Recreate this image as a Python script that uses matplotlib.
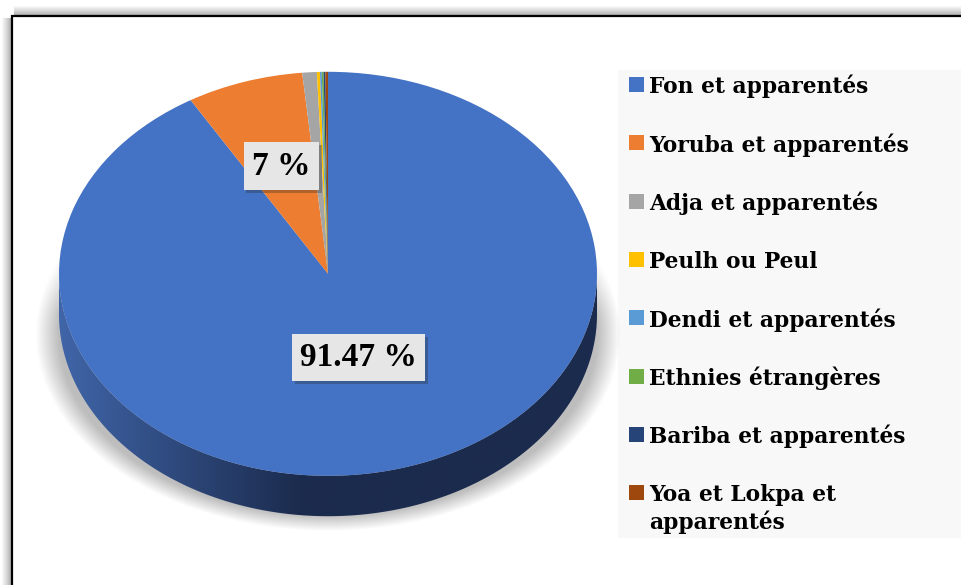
import numpy as np
import matplotlib.pyplot as plt
from matplotlib.patches import Rectangle, Polygon
from matplotlib.colors import to_rgb
import matplotlib.patheffects as pe

# données : répartition des ethnies (%)
ethnies = ['Fon et apparentés', 'Yoruba et apparentés', 'Adja et apparentés',
           'Peulh ou Peul', 'Dendi et apparentés', 'Ethnies étrangères',
           'Bariba et apparentés', 'Yoa et Lokpa et\napparentés']
parts = [91.47, 7.0, 0.87, 0.18, 0.11, 0.11, 0.11, 0.15]
etiquettes = ['91.47 %', '7 %', '', '', '', '', '', '']
couleurs = ['#4472c4', '#ed7d31', '#a5a5a5', '#ffc000',
            '#5b9bd5', '#70ad47', '#264478', '#9e480e']

W, H = 961, 585
police = 'Liberation Serif'
police_leg = 'DejaVu Serif'
epaisseur = 0.2   # profondeur du camembert 3D (unités du rayon)

fig = plt.figure(figsize=(W / 100, H / 100), dpi=100)

# fond en pixels : cadre, ombre du cadre, légende
fond = fig.add_axes([0, 0, 1, 1])
fond.set_xlim(0, W)
fond.set_ylim(H, 0)
fond.axis('off')

for k in range(1, 12):
    g = 0.6 + 0.4 * (k / 11) ** 0.8
    fond.plot([12 - k, 12 - k], [16 + 2, H], color=str(g), lw=0.75, zorder=1)
    fond.plot([12 + 2, W], [16 - k, 16 - k], color=str(g), lw=0.75, zorder=1)
fond.plot([12, 12, W], [H, 16, 16], color='black', lw=1.6, zorder=2,
          solid_joinstyle='miter')

fond.add_patch(Rectangle((618, 70), W - 618, 468, facecolor='#f8f8f8',
                         edgecolor='none', zorder=1))
for i, (lab, col) in enumerate(zip(ethnies, couleurs)):
    yb = 93.3 + 58.3 * i
    fond.add_patch(Rectangle((629, yb - 16.3), 15, 15, facecolor=col,
                             edgecolor='none', zorder=3))
    for j, ligne in enumerate(lab.split('\n')):
        fond.text(649, yb + 28 * j, ligne, fontsize=15.7, fontweight='bold',
                  family=police_leg, va='baseline', ha='left', color='black',
                  zorder=3)

# camembert
ax = fig.add_axes([5.2 / W, 28.4 / H, 645.6 / W, 525.2 / H])
ax.patch.set_alpha(0)

angles = np.cumsum([0] + parts) / 100 * 360   # sens horaire depuis midi

# ombre douce sous le camembert
xs = np.linspace(-1.2, 1.2, 400)
ys = np.linspace(-1.4, 0.8, 400)
X, Y = np.meshgrid(xs, ys)
r = np.sqrt((X / 1.09) ** 2 + ((Y + 0.3) / 0.975) ** 2)
a = np.clip((1.0 - r) / 0.08, 0, 1) * np.clip((0.3 - Y) / 0.5, 0, 1) * 0.26
ombre = np.zeros(X.shape + (4,))
ombre[..., 3] = a
ax.imshow(ombre, extent=(-1.2, 1.2, -1.4, 0.8), origin='lower',
          aspect='auto', zorder=0.1, interpolation='bilinear')

# flanc visible (moitié avant)
for k in range(len(parts)):
    t0 = max(angles[k], 90)
    t1 = min(angles[k + 1], 270)
    if t1 <= t0:
        continue
    th = np.radians(np.linspace(t0, t1, 200))
    haut = np.column_stack([np.sin(th), np.cos(th)])
    bas = np.column_stack([np.sin(th[::-1]), np.cos(th[::-1]) - epaisseur])
    flanc = Polygon(np.vstack([haut, bas]), closed=True, facecolor='none',
                    edgecolor='none', zorder=0.9)
    ax.add_patch(flanc)
    c1 = np.array(to_rgb('#4065a8'))
    c2 = np.array(to_rgb('#1b2b4d'))
    gx = np.linspace(-1.05, 1.05, 300)
    f = np.clip((gx + 1.0) / 0.9, 0, 1)[None, :, None]
    grad = c1 * (1 - f) + c2 * f
    im = ax.imshow(grad, extent=(-1.05, 1.05, -1.25, 0.05), aspect='auto',
                   zorder=0.9, interpolation='bilinear')
    im.set_clip_path(flanc)

wedges, _ = ax.pie(parts, colors=couleurs, startangle=90, counterclock=False,
                   wedgeprops=dict(linewidth=0))
for w in wedges:
    w.set_zorder(1)

# étiquettes de données
dist_etiq = [0.43, 0.56]
for k, txt in enumerate(etiquettes):
    if not txt:
        continue
    mid = np.radians((angles[k] + angles[k + 1]) / 2)
    t = ax.text(dist_etiq[k] * np.sin(mid), dist_etiq[k] * np.cos(mid), txt,
                fontsize=24, fontweight='bold', family=police,
                ha='center', va='center', zorder=5,
                bbox=dict(boxstyle='square,pad=0.25', facecolor='#e6e6e6',
                          edgecolor='none'))
    t.get_bbox_patch().set_path_effects(
        [pe.withSimplePatchShadow(offset=(2, -2), shadow_rgbFace='0.15',
                                  alpha=0.3)])

ax.set_aspect('auto')
ax.set_xlim(-1.2, 1.2)
ax.set_ylim(-1.4, 1.2)
ax.axis('off')

fig.savefig('out.png', dpi=100)
